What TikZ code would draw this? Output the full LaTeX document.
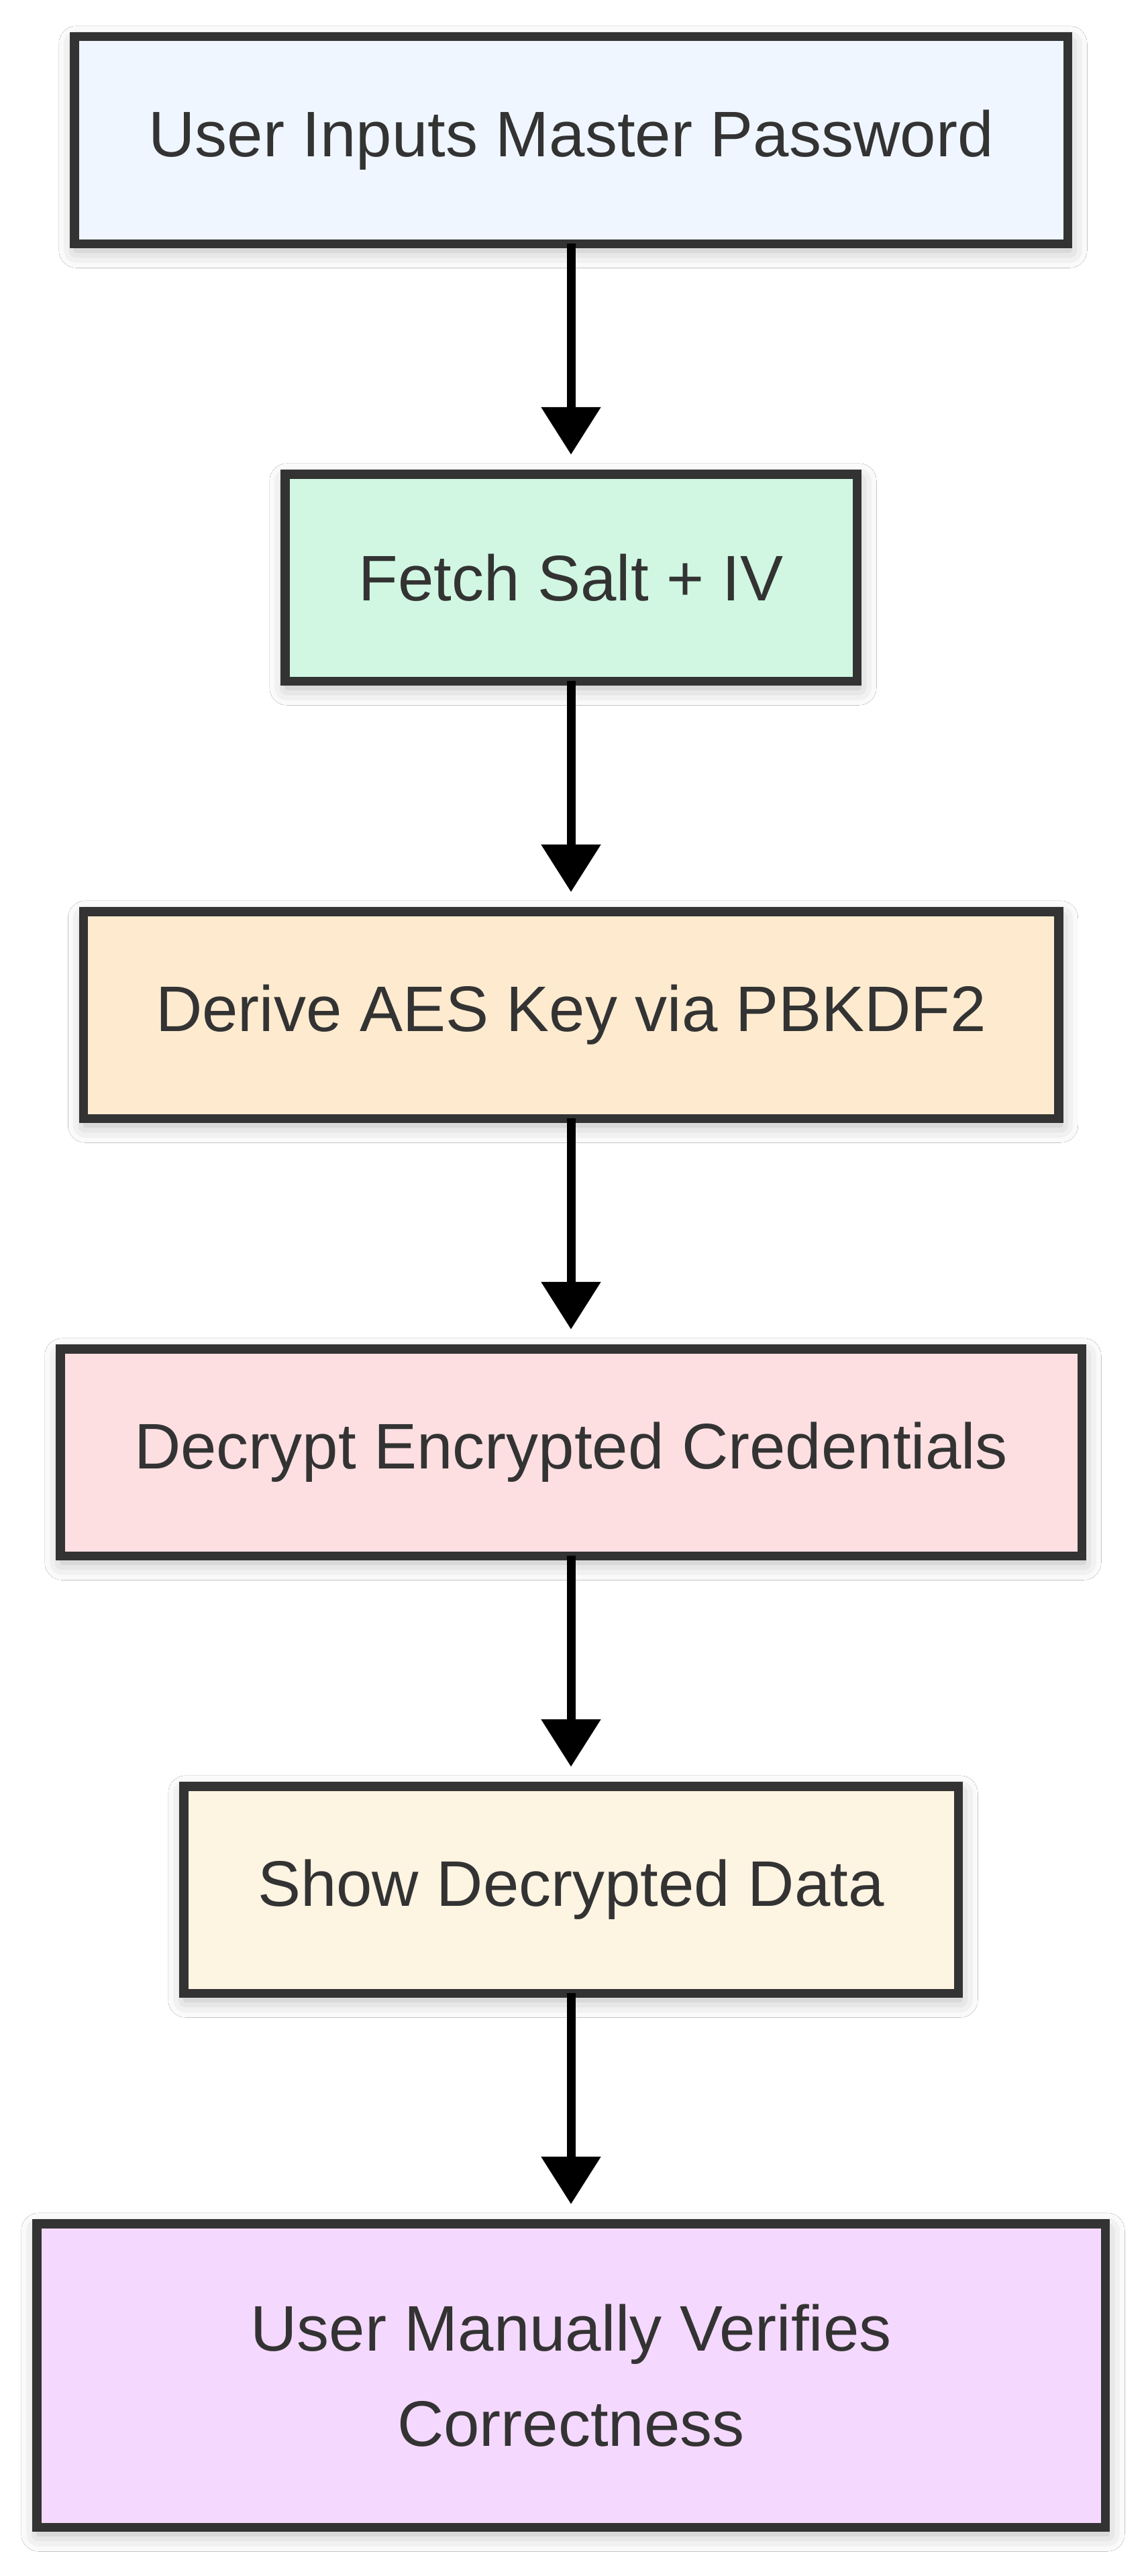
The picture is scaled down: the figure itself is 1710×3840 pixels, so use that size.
\documentclass[tikz,border=0pt]{standalone}
\usepackage{fontspec}
\setmainfont{Liberation Sans}
\usetikzlibrary{arrows.meta,shadows.blur}
\definecolor{strokec}{HTML}{333333}
\definecolor{textc}{HTML}{333333}
\definecolor{fillA}{HTML}{EFF6FF}
\definecolor{fillB}{HTML}{D1F7E2}
\definecolor{fillC}{HTML}{FEEBCF}
\definecolor{fillD}{HTML}{FDDFE2}
\definecolor{fillE}{HTML}{FEF4E2}
\definecolor{fillF}{HTML}{F5D8FE}
\tikzset{
  stepbox/.style={draw=strokec, line width=13.5pt, rectangle, inner sep=0pt, outer sep=0pt,
    text=textc, align=center,
    font=\fontsize{96}{142}\selectfont,
    blur shadow={shadow xshift=3pt, shadow yshift=-10pt, shadow blur radius=26pt, shadow opacity=30}},
  flow/.style={line width=13pt, black, -{Triangle[length=71pt,width=86pt]}, shorten >=29pt}
}
\begin{document}
\begin{tikzpicture}[x=1pt,y=-1pt]
\useasboundingbox (0,0) rectangle (1710,3840);
\fill[white] (0,0) rectangle (1710,3840);
\node[stepbox, fill=fillA, minimum width=1480.5pt, minimum height=308.5pt] (n1) at (851,209) {User Inputs Master Password};
\node[stepbox, fill=fillB, minimum width=852.5pt, minimum height=308.5pt] (n2) at (851,861) {Fetch Salt + IV};
\node[stepbox, fill=fillC, minimum width=1453.5pt, minimum height=308.5pt] (n3) at (851,1513) {Derive AES Key via PBKDF2};
\node[stepbox, fill=fillD, minimum width=1522.5pt, minimum height=308.5pt] (n4) at (851,2165) {Decrypt Encrypted Credentials};
\node[stepbox, fill=fillE, minimum width=1154.5pt, minimum height=308.5pt] (n5) at (851,2817) {Show Decrypted Data};
\node[stepbox, fill=fillF, minimum width=1592.5pt, minimum height=452.5pt] (n6) at (851,3541) {User Manually Verifies\\Correctness};
\draw[flow] (n1.south) -- (n2.north);
\draw[flow] (n2.south) -- (n3.north);
\draw[flow] (n3.south) -- (n4.north);
\draw[flow] (n4.south) -- (n5.north);
\draw[flow] (n5.south) -- (n6.north);
\end{tikzpicture}
\end{document}
